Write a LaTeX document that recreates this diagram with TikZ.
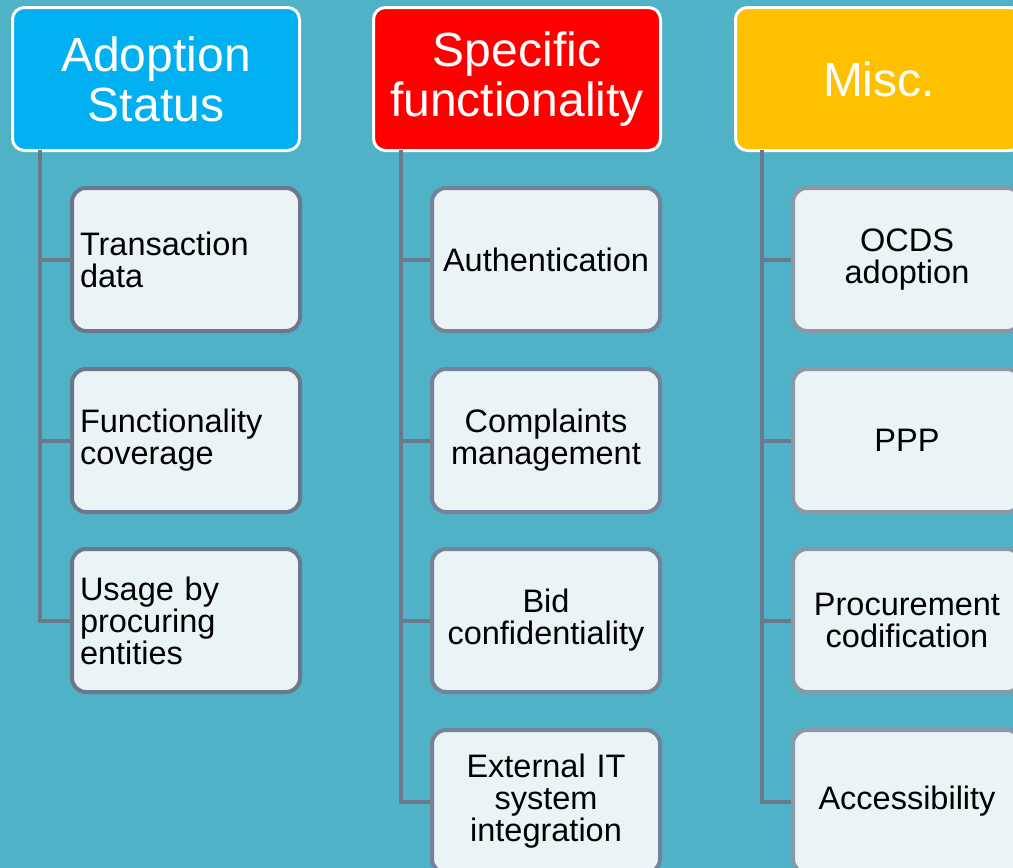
\documentclass[tikz,border=0pt]{standalone}
\usepackage{fontspec}
\setmainfont{Liberation Sans}
\definecolor{bgc}{HTML}{4FB2C7}
\definecolor{hblue}{HTML}{00B0F0}
\definecolor{hred}{HTML}{FF0000}
\definecolor{hyel}{HTML}{FFC000}
\definecolor{cfill}{HTML}{EAF3F6}
\definecolor{edgeA}{HTML}{6B788C}
\definecolor{edgeB}{HTML}{75839A}
\definecolor{edgeC}{HTML}{8C97A4}
\definecolor{connc}{HTML}{6A798C}
\tikzset{
  hdr/.style={draw=white, line width=3pt, rounded corners=12pt, anchor=north west,
    minimum width=287pt, minimum height=143pt, text width=271pt, inner xsep=8pt,
    align=center, text=white, font=\fontsize{48}{50}\selectfont},
  child/.style={fill=cfill, line width=4pt, rounded corners=14pt, anchor=north west,
    minimum height=143pt, text width=212pt, inner xsep=8pt,
    font=\fontsize{32.5}{32}\selectfont},
  conn/.style={draw=connc, line width=4pt}
}
\begin{document}
\begin{tikzpicture}[x=1pt,y=-1pt]
\clip (0,0) rectangle (1013,868);
\fill[bgc] (0,0) rectangle (1013,868);
% headers
\node[hdr, fill=hblue] (h1) at (11,6) {Adoption\\Status};
\node[hdr, fill=hred] (h2) at (372,6) {Specific\\functionality};
\node[hdr, fill=hyel] (h3) at (734,6) {Misc.};
% trunk tops
\coordinate (t1) at (40,150);
\coordinate (t2) at (401,150);
\coordinate (t3) at (762,150);
% column 1
\node[child, draw=edgeA, align=left] (a1) at (70,186) {Transaction\\data};
\node[child, draw=edgeA, align=left] (a2) at (70,367) {Functionality\\coverage};
\node[child, draw=edgeA, align=left] (a3) at (70,547) {Usage by\\procuring\\entities};
% column 2
\node[child, draw=edgeB, align=center] (b1) at (430,186) {Authentication};
\node[child, draw=edgeB, align=center] (b2) at (430,367) {Complaints\\management};
\node[child, draw=edgeB, align=center] (b3) at (430,547) {Bid\\confidentiality};
\node[child, draw=edgeB, align=center] (b4) at (430,728) {External IT\\system\\integration};
% column 3
\node[child, draw=edgeC, align=center] (c1) at (791,186) {OCDS\\adoption};
\node[child, draw=edgeC, align=center] (c2) at (791,367) {PPP};
\node[child, draw=edgeC, align=center] (c3) at (791,547) {Procurement\\codification};
\node[child, draw=edgeC, align=center] (c4) at (791,728) {Accessibility};
% connectors
\begin{scope}[on background layer/.style={}]
\draw[conn] (t1) |- (a3.west);
\draw[conn] (t1 |- a1.west) -- (a1.west);
\draw[conn] (t1 |- a2.west) -- (a2.west);
\draw[conn] (t2) |- (b4.west);
\draw[conn] (t2 |- b1.west) -- (b1.west);
\draw[conn] (t2 |- b2.west) -- (b2.west);
\draw[conn] (t2 |- b3.west) -- (b3.west);
\draw[conn] (t3) |- (c4.west);
\draw[conn] (t3 |- c1.west) -- (c1.west);
\draw[conn] (t3 |- c2.west) -- (c2.west);
\draw[conn] (t3 |- c3.west) -- (c3.west);
\end{scope}
\end{tikzpicture}
\end{document}
